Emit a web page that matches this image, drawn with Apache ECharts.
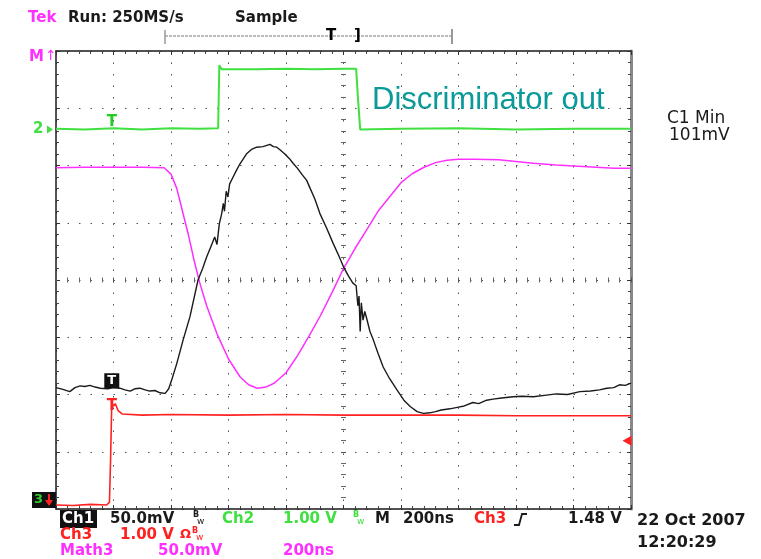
<!DOCTYPE html>
<html>
<head>
<meta charset="utf-8">
<script src="https://cdn.jsdelivr.net/npm/echarts@6/dist/echarts.min.js"></script>
<style>
  html, body { margin: 0; padding: 0; background: #fff; }
  #scope { width: 761px; height: 559px; }
</style>
</head>
<body>
<div id="scope"></div>
<script>
// all traces in screen divisions: x = 0..10 (200ns/div), y = 0..8
const ch1Trace = [
  [0,2.12],[0.12,2.09],[0.24,2.05],[0.33,2.12],[0.42,2.15],[0.5,2.14],[0.59,2.16],[0.68,2.13],
  [0.77,2.11],[0.9,2.1],[1.0,2.12],[1.11,2.11],[1.2,2.08],[1.29,2.06],[1.37,2.1],[1.46,2.11],
  [1.55,2.08],[1.63,2.06],[1.72,2.07],[1.81,2.03],[1.9,2.02],[1.96,2.1],[2.02,2.28],[2.1,2.54],
  [2.21,2.95],[2.33,3.36],[2.47,4.0],[2.55,4.2],[2.62,4.4],[2.7,4.6],[2.76,4.75],[2.8,4.62],
  [2.84,4.98],[2.88,5.15],[2.91,5.34],[2.93,5.2],[2.96,5.55],[2.99,5.45],[3.02,5.68],[3.08,5.8],
  [3.14,5.92],[3.2,6.03],[3.26,6.12],[3.32,6.21],[3.4,6.28],[3.49,6.32],[3.6,6.33],[3.72,6.37],
  [3.78,6.33],[3.84,6.32],[3.9,6.27],[3.98,6.2],[4.06,6.12],[4.13,6.03],[4.2,5.95],[4.28,5.84],
  [4.36,5.74],[4.42,5.6],[4.5,5.42],[4.59,5.16],[4.7,4.92],[4.82,4.64],[4.92,4.42],[5.0,4.23],
  [5.08,4.08],[5.16,3.95],[5.22,3.9],[5.25,3.55],[5.27,3.72],[5.29,3.1],[5.31,3.6],[5.34,3.3],
  [5.37,3.45],[5.4,3.34],[5.46,3.1],[5.52,2.95],[5.6,2.72],[5.69,2.48],[5.8,2.28],[5.93,2.08],
  [6.05,1.9],[6.16,1.79],[6.28,1.7],[6.39,1.67],[6.5,1.68],[6.6,1.7],[6.7,1.73],[6.85,1.75],
  [7.0,1.78],[7.1,1.8],[7.25,1.86],[7.35,1.84],[7.49,1.9],[7.6,1.92],[7.75,1.94],[7.95,1.96],
  [8.1,1.97],[8.3,1.96],[8.53,1.99],[8.7,2.01],[8.9,2.0],[9.11,2.05],[9.3,2.06],[9.45,2.08],
  [9.58,2.11],[9.7,2.12],[9.8,2.17],[9.9,2.16],[10,2.2]
];

// discriminator output
const ch2Trace = [
  [0,6.64],[0.5,6.63],[1,6.65],[1.5,6.63],[2,6.65],[2.5,6.64],[2.82,6.65],[2.84,7.75],
  [2.88,7.68],[3.5,7.68],[4,7.69],[4.5,7.68],[5.0,7.69],[5.22,7.69],[5.25,7.2],[5.29,6.63],
  [6,6.64],[7,6.65],[8,6.63],[9,6.64],[10,6.64]
];

// trigger channel
const ch3Trace = [
  [0,0.07],[0.3,0.06],[0.6,0.08],[0.88,0.07],[0.93,0.12],[0.95,0.9],[0.97,1.85],[1.0,1.8],
  [1.03,1.84],[1.08,1.72],[1.15,1.66],[1.5,1.64],[2,1.65],[3,1.64],[4,1.65],[5,1.64],
  [6,1.64],[7,1.64],[8,1.63],[9,1.63],[10,1.63]
];

const math3Trace = [
  [0,5.96],[0.5,5.97],[1,5.97],[1.5,5.97],[1.88,5.96],[2.0,5.85],[2.1,5.6],[2.2,5.2],
  [2.3,4.8],[2.4,4.35],[2.5,3.95],[2.62,3.55],[2.8,3.06],[3.0,2.62],[3.2,2.31],[3.35,2.17],
  [3.5,2.11],[3.65,2.13],[3.8,2.2],[4.0,2.38],[4.2,2.68],[4.4,3.02],[4.6,3.38],[4.8,3.78],
  [5.0,4.2],[5.2,4.55],[5.4,4.87],[5.6,5.2],[5.8,5.45],[6.0,5.7],[6.2,5.86],[6.4,5.97],
  [6.6,6.05],[6.8,6.09],[7.0,6.11],[7.3,6.11],[7.7,6.1],[8.0,6.07],[8.3,6.04],[8.7,6.01],
  [9.0,5.99],[9.4,5.97],[9.7,5.95],[10,5.95]
];

// trigger "T" markers and trigger level arrow
const triggerX = 0.97;
const ch1Marker = [triggerX, 2.24];
const ch2Marker = [triggerX, 6.64];
const ch3Marker = [triggerX, 1.85];
const ch3Level = [9.93, 1.19];

const GREEN = '#3fe03f', MAG = '#ff30ff', RED = '#ff2020', INK = '#1a1a1a';
const F = '"DejaVu Sans", sans-serif';

function txt(x, y, s, color, size, weight) {
  return {
    type: 'text', x: x, y: y, silent: true,
    style: { text: s, fill: color, font: (weight || 'bold') + ' ' + (size || 15) + 'px ' + F, verticalAlign: 'middle' }
  };
}

let myChart = echarts.init(document.getElementById('scope'));

const dotLine = { color: '#555', width: 1, type: [1.5, 10] };
function borderAxis(pos, lineColor, lineWidth, split) {
  return {
    type: 'value', min: 0, max: pos === 'top' || pos === 'bottom' ? 10 : 8, interval: 1, position: pos,
    axisLine: { show: true, onZero: false, lineStyle: { color: lineColor, width: lineWidth } },
    axisTick: { show: true, inside: true, length: 4, lineStyle: { color: '#333' } },
    minorTick: { show: true, splitNumber: 5, length: 3, lineStyle: { color: '#444' } },
    axisLabel: { show: false },
    splitLine: { show: split, lineStyle: dotLine }
  };
}
function centerAxis(pos, offset) {
  return {
    type: 'value', min: 0, max: pos === 'bottom' ? 10 : 8, interval: 1, position: pos, offset: offset,
    axisLine: { show: false, onZero: false },
    axisTick: { show: true, inside: true, length: 5, lineStyle: { color: '#555' } },
    minorTick: { show: true, splitNumber: 5, length: 5, lineStyle: { color: '#666' } },
    axisLabel: { show: false },
    splitLine: { show: false }
  };
}

let option = {
  backgroundColor: '#fff',
  animation: false,
  grid: { left: 56, top: 51, width: 575, height: 458 },
  xAxis: [
    borderAxis('bottom', INK, 1.5, true),
    borderAxis('top', INK, 1.5, false),
    centerAxis('bottom', -226.5)
  ],
  yAxis: [
    borderAxis('left', INK, 1.5, true),
    borderAxis('right', '#888', 3, false),
    centerAxis('left', -285)
  ],
  series: [
    {
      name: 'Ch2', type: 'line', data: ch2Trace, symbol: 'none',
      lineStyle: { color: GREEN, width: 2 },
      markPoint: {
        symbol: 'rect', symbolSize: 1, itemStyle: { color: 'rgba(0,0,0,0)' },
        label: { show: true, formatter: 'T', color: '#22cc22', fontWeight: 'bold', fontSize: 15, fontFamily: 'DejaVu Sans', offset: [0, -7] },
        data: [{ coord: ch2Marker }]
      }
    },
    {
      name: 'Math3', type: 'line', data: math3Trace, symbol: 'none',
      lineStyle: { color: MAG, width: 1.5 }
    },
    {
      name: 'Ch1', type: 'line', data: ch1Trace, symbol: 'none',
      lineStyle: { color: INK, width: 1.4 },
      markPoint: {
        symbol: 'rect', symbolSize: [15, 15], itemStyle: { color: '#111' },
        label: { show: true, formatter: 'T', color: '#fff', fontWeight: 'bold', fontSize: 13, fontFamily: 'DejaVu Sans' },
        data: [{ coord: ch1Marker }]
      }
    },
    {
      name: 'Ch3', type: 'line', data: ch3Trace, symbol: 'none',
      lineStyle: { color: RED, width: 1.6 },
      markPoint: {
        symbolKeepAspect: false,
        label: { show: true, fontFamily: 'DejaVu Sans' },
        data: [
          { coord: ch3Marker, symbol: 'rect', symbolSize: 1, itemStyle: { color: 'rgba(0,0,0,0)' },
            label: { formatter: 'T', color: RED, fontWeight: 'bold', fontSize: 15, offset: [0, 3] } },
          { coord: ch3Level, symbol: 'triangle', symbolRotate: 90, symbolSize: [10, 9], itemStyle: { color: RED },
            label: { show: false } }
        ]
      }
    }
  ],
  graphic: [
    // header
    txt(28, 18, 'Tek', MAG),
    txt(68, 18, 'Run: 250MS/s', INK),
    txt(235, 18, 'Sample', INK),
    { type: 'line', silent: true, shape: { x1: 165, y1: 36, x2: 452, y2: 36 }, style: { stroke: '#777', lineWidth: 1, lineDash: [3, 1] } },
    { type: 'line', silent: true, shape: { x1: 165, y1: 30, x2: 165, y2: 44 }, style: { stroke: '#999', lineWidth: 1.5 } },
    { type: 'line', silent: true, shape: { x1: 452, y1: 29, x2: 452, y2: 44 }, style: { stroke: '#999', lineWidth: 2 } },
    txt(326, 36, 'T', '#000', 15, 'bold'),
    txt(354, 36, ']', '#000', 15, 'bold'),
    // left channel markers
    txt(29, 57, 'M', MAG),
    txt(45, 56, '↑', MAG, 14, 'normal'),
    txt(33, 129, '2', GREEN),
    { type: 'polygon', silent: true, shape: { points: [[47, 125.5], [53, 129.5], [47, 133.5]] }, style: { fill: GREEN } },
    { type: 'rect', silent: true, shape: { x: 32, y: 492, width: 24, height: 16 }, style: { fill: '#111' } },
    txt(34, 500, '3', '#3c3', 13),
    { type: 'polygon', silent: true, shape: { points: [[45, 500], [53, 500], [49, 506]] }, style: { fill: RED } },
    { type: 'line', silent: true, shape: { x1: 49, y1: 494, x2: 49, y2: 501 }, style: { stroke: RED, lineWidth: 2 } },
    // annotation
    { type: 'text', x: 372, y: 100, silent: true,
      style: { text: 'Discriminator out', fill: '#0a9a9a', font: '31px "Liberation Sans", Arial, sans-serif', verticalAlign: 'middle' } },
    txt(667, 119, 'C1 Min', INK, 17, 'normal'),
    txt(669, 136, '101mV', INK, 17, 'normal'),
    // bottom readout
    { type: 'rect', silent: true, shape: { x: 60, y: 510, width: 37, height: 18 }, style: { fill: '#111' } },
    txt(62, 519, 'Ch1', '#fff'),
    txt(110, 519, '50.0mV', INK),
    txt(193, 515, 'B', INK, 8),
    txt(197, 522, 'w', INK, 9, 'normal'),
    txt(222, 519, 'Ch2', GREEN),
    txt(283, 519, '1.00 V', GREEN),
    txt(353, 515, 'B', GREEN, 8),
    txt(357, 522, 'w', GREEN, 9, 'normal'),
    txt(375, 519, 'M', INK),
    txt(403, 519, '200ns', INK),
    txt(474, 519, 'Ch3', RED),
    { type: 'polyline', silent: true, shape: { points: [[514, 525], [519, 525], [522, 514], [527, 514]] }, style: { stroke: INK, lineWidth: 1.8, fill: null } },
    txt(568, 519, '1.48 V', INK),
    txt(637, 521, '22 Oct 2007', INK, 16),
    txt(637, 543, '12:20:29', INK, 16),
    txt(60, 535, 'Ch3', RED),
    txt(120, 535, '1.00 V', RED),
    txt(180, 535, 'Ω', RED, 13),
    txt(192, 531, 'B', RED, 8),
    txt(196, 538, 'w', RED, 9, 'normal'),
    txt(60, 551, 'Math3', MAG),
    txt(158, 551, '50.0mV', MAG),
    txt(283, 551, '200ns', MAG)
  ]
};

myChart.setOption(option);
window.addEventListener('resize', function () { myChart.resize() });
</script>
</body>
</html>
